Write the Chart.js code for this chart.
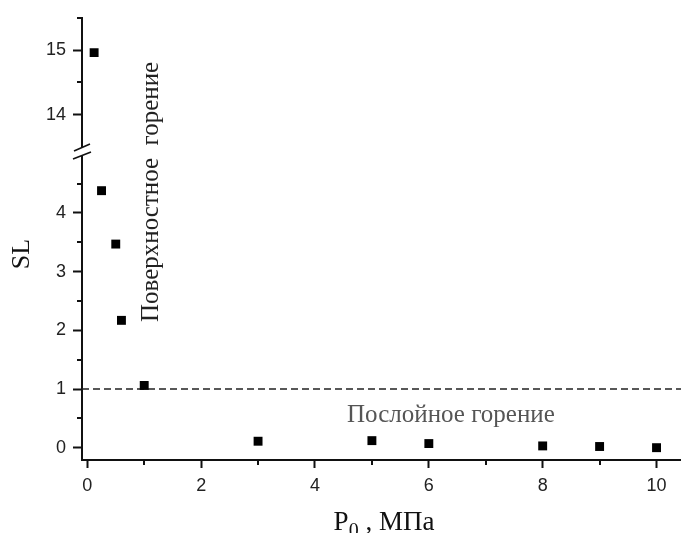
<!DOCTYPE html>
<html>
<head>
<meta charset="utf-8">
<script src="https://cdn.jsdelivr.net/npm/chart.js@4/dist/chart.umd.min.js"></script>
<style>
  html, body { margin: 0; padding: 0; background: #fff; }
  #slChart { display: block; }
</style>
</head>
<body>
<canvas id="slChart" width="681" height="533"></canvas>
<script>
// Measured points: pressure P0 (MPa) and SL
const pressureLow = [0.25, 0.5, 0.6, 1, 3, 5, 6, 8, 9, 10];
const slLow = [4.38, 3.47, 2.17, 1.06, 0.11, 0.12, 0.07, 0.03, 0.02, 0.0];
const pressureHigh = [0.12];
const slHigh = [14.96];

// Boundary between the two burning modes
const slThreshold = 1;

// Axis ticks
const xTicks = [0, 2, 4, 6, 8, 10];
const xMinor = [1, 3, 5, 7, 9];
const lowTicks = [0, 1, 2, 3, 4];
const lowMinor = [0.5, 1.5, 2.5, 3.5, 4.5];
const highTicks = [14, 15];
const highMinor = [14.5, 15.5];

const X_MIN = -0.093, X_MAX = 10.43;
const AXIS_COLOR = '#111';
const tickFont = { family: '"Liberation Sans", Arial, sans-serif', size: 18 };

const pts = (xs, ys) => xs.map((x, i) => ({ x: x, y: ys[i] }));
const fixTicks = list => scale => { scale.ticks = list.map(v => ({ value: v })); };

// short minor ticks between the labelled ones
const minorTicks = {
    id: 'minorTicks',
    afterDraw(chart) {
        const ctx = chart.ctx;
        const { x, y, y2 } = chart.scales;
        ctx.save();
        ctx.strokeStyle = AXIS_COLOR;
        ctx.lineWidth = 2;
        ctx.beginPath();
        xMinor.forEach(v => {
            const px = Math.round(x.getPixelForValue(v));
            ctx.moveTo(px, x.top);
            ctx.lineTo(px, x.top + 5);
        });
        [[y, lowMinor], [y2, highMinor]].forEach(([s, vals]) => {
            vals.forEach(v => {
                const py = Math.round(s.getPixelForValue(v));
                ctx.moveTo(s.right, py);
                ctx.lineTo(s.right - 5, py);
            });
        });
        ctx.stroke();
        ctx.restore();
    }
};

// the // mark where the y axis is broken
const axisBreak = {
    id: 'axisBreak',
    afterDraw(chart) {
        const ctx = chart.ctx;
        const ax = chart.scales.y.right;
        const b = chart.scales.y.top;
        ctx.save();
        ctx.fillStyle = '#fff';
        ctx.beginPath();
        ctx.moveTo(ax - 8, b - 1);
        ctx.lineTo(ax + 8, b - 8);
        ctx.lineTo(ax + 9, b);
        ctx.lineTo(ax - 9, b + 7);
        ctx.closePath();
        ctx.fill();
        ctx.strokeStyle = AXIS_COLOR;
        ctx.lineWidth = 1.6;
        ctx.beginPath();
        ctx.moveTo(ax - 8, b - 1);
        ctx.lineTo(ax + 8, b - 8);
        ctx.moveTo(ax - 9, b + 7);
        ctx.lineTo(ax + 9, b);
        ctx.stroke();
        ctx.restore();
    }
};

// axis titles and the two region captions
const captions = {
    id: 'captions',
    afterDraw(chart) {
        const ctx = chart.ctx;
        const serif = '"Liberation Serif", "Times New Roman", serif';
        ctx.save();
        ctx.fillStyle = '#111';

        // y title
        ctx.save();
        ctx.translate(22, 254);
        ctx.rotate(-Math.PI / 2);
        ctx.font = '26px ' + serif;
        ctx.textAlign = 'center';
        ctx.textBaseline = 'middle';
        ctx.fillText('SL', 0, 0);
        ctx.restore();

        // x title: P with subscript 0
        ctx.textBaseline = 'alphabetic';
        ctx.textAlign = 'left';
        const big = '27px ' + serif, small = '20px ' + serif;
        ctx.font = big;
        const wP = ctx.measureText('P').width;
        const rest = ' , МПа';
        const wRest = ctx.measureText(rest).width;
        ctx.font = small;
        const w0 = ctx.measureText('0').width;
        let x0 = 384 - (wP + w0 + wRest) / 2;
        const base = 530;
        ctx.font = big;
        ctx.fillText('P', x0, base);
        ctx.font = small;
        ctx.fillText('0', x0 + wP, base + 7);
        ctx.font = big;
        ctx.fillText(rest, x0 + wP + w0, base);

        // vertical caption
        ctx.save();
        ctx.translate(158, 322);
        ctx.rotate(-Math.PI / 2);
        ctx.font = '25px ' + serif;
        ctx.fillStyle = '#222';
        ctx.fillText('Поверхностное  горение', 0, 0);
        ctx.restore();

        // horizontal caption
        ctx.font = '25px ' + serif;
        ctx.fillStyle = '#555';
        ctx.fillText('Послойное горение', 347, 422);

        ctx.restore();
    }
};

const yCommon = {
    type: 'linear',
    position: 'left',
    stack: 'sl',
    afterFit: s => { s.width = 82; },
    grid: { drawOnChartArea: false, tickLength: 9, tickWidth: 2, tickColor: AXIS_COLOR },
    border: { color: AXIS_COLOR, width: 2 },
    ticks: { font: tickFont, color: '#222', padding: 7 }
};

new Chart(document.getElementById('slChart'), {
    type: 'scatter',
    data: {
        datasets: [
            {
                data: pts(pressureLow, slLow),
                yAxisID: 'y',
                pointStyle: 'rect',
                pointRadius: 6.3,
                borderWidth: 0,
                backgroundColor: '#000'
            },
            {
                data: pts(pressureHigh, slHigh),
                yAxisID: 'y2',
                pointStyle: 'rect',
                pointRadius: 6.3,
                borderWidth: 0,
                backgroundColor: '#000'
            },
            {
                data: pts([X_MIN, X_MAX], [slThreshold, slThreshold]),
                yAxisID: 'y',
                showLine: true,
                pointRadius: 0,
                borderColor: '#222',
                borderWidth: 1.3,
                borderDash: [7, 4]
            }
        ]
    },
    options: {
        responsive: false,
        animation: false,
        devicePixelRatio: 1,
        layout: { autoPadding: false, padding: { top: 15, left: 0, right: 0, bottom: 0 } },
        plugins: { legend: { display: false }, tooltip: { enabled: false } },
        scales: {
            x: {
                type: 'linear',
                min: X_MIN,
                max: X_MAX,
                afterBuildTicks: fixTicks(xTicks),
                afterFit: s => { s.height = 73; },
                grid: { drawOnChartArea: false, tickLength: 8, tickWidth: 2, tickColor: AXIS_COLOR },
                border: { color: AXIS_COLOR, width: 2 },
                ticks: { font: tickFont, color: '#222', padding: 7, maxRotation: 0, autoSkip: false }
            },
            // lower segment first: it is stacked at the bottom
            y: Object.assign({}, yCommon, {
                min: -0.21,
                max: 5.04,
                stackWeight: 310,
                afterBuildTicks: fixTicks(lowTicks)
            }),
            y2: Object.assign({}, yCommon, {
                min: 13.42,
                max: 15.5,
                stackWeight: 135,
                afterBuildTicks: fixTicks(highTicks)
            })
        }
    },
    plugins: [minorTicks, axisBreak, captions]
});
</script>
</body>
</html>
